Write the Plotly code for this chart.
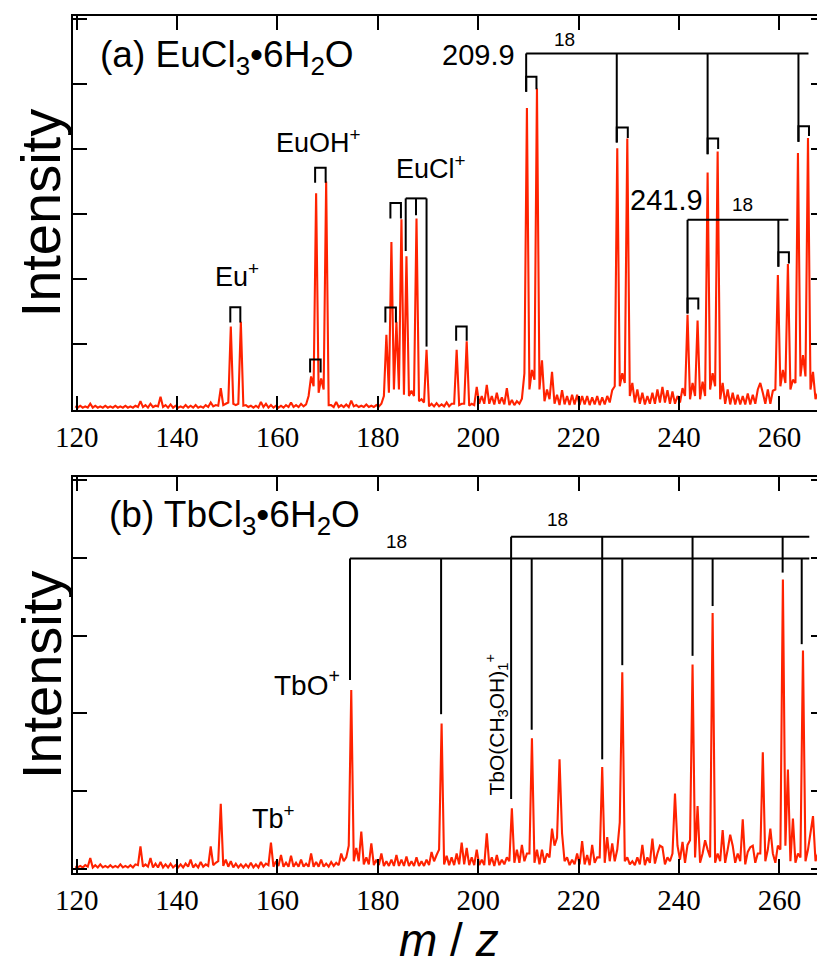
import plotly.graph_objects as go

# ---------------- data ----------------
# Spectra are sampled on a half-unit grid starting at m/z 119.7
# (hump points at m+0.7, valley points at m+0.2)
mz_start = 119.7
mz_step = 0.5

# Panel (a) EuCl3.6H2O : hump values for m = 119..269
hump_a = [
    0.04, 0.05, 0.04, 0.08, 0.05, 0.04, 0.05, 0.04, 0.05, 0.04,   # 119-128
    0.05, 0.04, 0.05, 0.12, 0.06, 0.08, 0.05, 0.19, 0.06, 0.07,   # 129-138
    0.05, 0.04, 0.06, 0.05, 0.06, 0.04, 0.06, 0.10, 0.06, 0.32,   # 139-148
    0.08, 1.27, 0.06, 1.34, 0.06, 0.05, 0.05, 0.11, 0.08, 0.06,   # 149-158
    0.05, 0.05, 0.06, 0.10, 0.06, 0.08, 0.07, 0.50, 3.32, 0.47,   # 159-168
    3.50, 0.06, 0.11, 0.06, 0.07, 0.13, 0.06, 0.05, 0.07, 0.05,   # 169-178
    0.06, 0.08, 1.14, 2.57, 1.34, 2.92, 2.35, 0.28, 2.93, 0.15,   # 179-188
    0.91, 0.08, 0.09, 0.07, 0.10, 0.08, 0.91, 0.08, 1.04, 0.08,   # 189-198
    0.34, 0.20, 0.37, 0.20, 0.25, 0.18, 0.32, 0.14, 0.12, 0.16,   # 199-208
    4.63, 0.60, 4.93, 0.75, 0.30, 0.57, 0.22, 0.29, 0.20, 0.22,   # 209-218
    0.22, 0.20, 0.20, 0.18, 0.20, 0.18, 0.20, 0.29, 4.01, 0.55,   # 219-228
    4.16, 0.40, 0.30, 0.25, 0.20, 0.25, 0.30, 0.34, 0.29, 0.27,   # 229-238
    0.20, 0.32, 1.45, 0.40, 1.36, 0.42, 3.64, 0.55, 3.96, 0.40,   # 239-248
    0.30, 0.25, 0.22, 0.20, 0.24, 0.22, 0.30, 0.25, 0.30, 0.28,   # 249-258
    2.06, 0.60, 2.23, 0.45, 3.94, 0.83, 4.17, 0.57, 0.25, 0.88,   # 259-268
    1.10,                                                         # 269
]
# valley values for m = 120..269 (at m+0.2)
valley_a = [
    0.02, 0.02, 0.02, 0.02, 0.02, 0.02, 0.02, 0.02, 0.02, 0.02,   # 120-129
    0.02, 0.02, 0.03, 0.03, 0.02, 0.03, 0.04, 0.03, 0.02, 0.02,   # 130-139
    0.02, 0.02, 0.02, 0.02, 0.02, 0.02, 0.03, 0.04, 0.05, 0.06,   # 140-149
    0.10, 0.08, 0.08, 0.05, 0.03, 0.02, 0.02, 0.03, 0.02, 0.02,   # 150-159
    0.02, 0.02, 0.03, 0.03, 0.03, 0.04, 0.20, 0.35, 0.25, 0.30,   # 160-169
    0.06, 0.03, 0.03, 0.03, 0.03, 0.04, 0.03, 0.03, 0.03, 0.03,   # 170-179
    0.04, 0.20, 0.25, 0.30, 0.30, 0.22, 0.20, 0.20, 0.12, 0.10,   # 180-189
    0.04, 0.04, 0.04, 0.04, 0.04, 0.08, 0.06, 0.08, 0.05, 0.06,   # 190-199
    0.08, 0.08, 0.08, 0.07, 0.08, 0.07, 0.06, 0.06, 0.08, 0.55,   # 200-209
    0.30, 0.45, 0.30, 0.12, 0.15, 0.08, 0.06, 0.07, 0.06, 0.07,   # 210-219
    0.06, 0.07, 0.06, 0.07, 0.06, 0.07, 0.10, 0.35, 0.35, 0.40,   # 220-229
    0.20, 0.10, 0.08, 0.07, 0.08, 0.08, 0.10, 0.10, 0.08, 0.08,   # 230-239
    0.10, 0.20, 0.15, 0.20, 0.15, 0.20, 0.30, 0.35, 0.15, 0.08,   # 240-249
    0.07, 0.07, 0.07, 0.07, 0.07, 0.08, 0.40, 0.08, 0.08, 0.30,   # 250-259
    0.35, 0.40, 0.30, 0.40, 0.50, 0.50, 0.30, 0.15, 0.20, 0.95,   # 260-269
]

# Panel (b) TbCl3.6H2O : hump values for m = 119..269
hump_b = [
    0.03, 0.04, 0.05, 0.14, 0.05, 0.06, 0.04, 0.05, 0.04, 0.06,   # 119-128
    0.04, 0.05, 0.06, 0.29, 0.06, 0.14, 0.07, 0.09, 0.06, 0.07,   # 129-138
    0.05, 0.06, 0.07, 0.12, 0.06, 0.09, 0.06, 0.29, 0.08, 0.84,   # 139-148
    0.12, 0.10, 0.07, 0.06, 0.06, 0.08, 0.06, 0.09, 0.07, 0.34,   # 149-158
    0.10, 0.18, 0.08, 0.17, 0.08, 0.12, 0.07, 0.20, 0.09, 0.12,   # 159-168
    0.07, 0.09, 0.08, 0.20, 0.15, 2.30, 0.27, 0.48, 0.15, 0.33,   # 169-178
    0.12, 0.20, 0.10, 0.12, 0.18, 0.12, 0.16, 0.10, 0.15, 0.10,   # 179-188
    0.12, 0.22, 0.18, 1.87, 0.17, 0.15, 0.20, 0.34, 0.27, 0.15,   # 189-198
    0.25, 0.12, 0.46, 0.15, 0.18, 0.12, 0.15, 0.78, 0.25, 0.31,   # 199-208
    0.20, 1.68, 0.25, 0.25, 0.20, 0.52, 0.40, 0.46, 0.15, 0.12,   # 209-218
    0.20, 0.36, 0.18, 0.31, 0.15, 1.31, 0.41, 0.33, 0.25, 2.53,   # 219-228
    0.15, 0.10, 0.15, 0.31, 0.15, 0.39, 0.20, 0.28, 0.15, 0.20,   # 229-238
    0.30, 0.35, 0.31, 2.63, 0.81, 0.20, 0.25, 3.29, 0.20, 0.50,   # 239-248
    0.25, 0.30, 0.20, 0.64, 0.22, 0.30, 0.20, 1.50, 0.25, 0.20,   # 249-258
    0.30, 3.72, 1.28, 0.65, 0.20, 2.81, 0.25, 0.68, 0.20, 0.30,   # 259-268
    0.33,                                                         # 269
]
valley_b = [
    0.02, 0.02, 0.03, 0.02, 0.02, 0.02, 0.02, 0.02, 0.02, 0.02,   # 120-129
    0.02, 0.02, 0.05, 0.03, 0.03, 0.02, 0.02, 0.02, 0.02, 0.02,   # 130-139
    0.02, 0.02, 0.03, 0.02, 0.02, 0.03, 0.04, 0.05, 0.10, 0.04,   # 140-149
    0.03, 0.02, 0.02, 0.02, 0.02, 0.02, 0.02, 0.03, 0.05, 0.03,   # 150-159
    0.04, 0.03, 0.03, 0.03, 0.03, 0.03, 0.03, 0.03, 0.03, 0.03,   # 160-169
    0.03, 0.04, 0.05, 0.10, 0.30, 0.10, 0.10, 0.06, 0.06, 0.05,   # 170-179
    0.05, 0.04, 0.04, 0.04, 0.04, 0.04, 0.04, 0.04, 0.04, 0.04,   # 180-189
    0.05, 0.10, 0.25, 0.06, 0.05, 0.05, 0.06, 0.06, 0.05, 0.05,   # 190-199
    0.05, 0.05, 0.05, 0.04, 0.05, 0.06, 0.10, 0.08, 0.08, 0.10,   # 200-209
    0.20, 0.08, 0.06, 0.08, 0.15, 0.30, 1.41, 0.10, 0.05, 0.06,   # 210-219
    0.06, 0.06, 0.05, 0.08, 0.15, 0.08, 0.10, 0.10, 0.60, 0.10,   # 220-229
    0.06, 0.05, 0.06, 0.05, 0.08, 0.07, 0.30, 0.06, 0.10, 0.97,   # 230-239
    0.12, 0.08, 0.37, 0.15, 0.08, 0.37, 0.15, 0.08, 0.10, 0.08,   # 240-249
    0.44, 0.08, 0.10, 0.06, 0.28, 0.08, 0.20, 0.10, 0.52, 0.08,   # 250-259
    0.25, 0.30, 0.10, 0.08, 0.15, 0.10, 0.47, 0.10, 0.06, 0.10,   # 260-269
]

# Panel (a) "18" progression series (top y, vertical-line m/z, vertical bottoms, end m/z)
a_s1_top, a_s1_end = 5.47, 265.8
a_s1_x = [209.55, 227.6, 245.7, 263.8]
a_s1_bottom = [4.88, 4.10, 3.92, 4.11]
a_s2_top, a_s2_end = 2.91, 261.8
a_s2_x = [241.7, 259.8]
a_s2_bottom = [1.47, 2.19]
# isotope-pair brackets in panel (a)
a_pair_left = [150.6, 166.5, 167.5, 181.5, 182.5, 195.6, 209.55, 227.6, 245.7, 263.8, 241.7, 259.8]
a_pair_right = [152.6, 168.6, 169.6, 183.6, 184.6, 197.7, 211.6, 229.8, 247.8, 265.9, 243.85, 261.9]
a_pair_top = [1.565, 0.76, 3.71, 1.56, 3.17, 1.27, 5.11, 4.33, 4.16, 4.35, 1.70, 2.41]
a_pair_lbot = [1.33, 0.56, 3.48, 1.33, 2.93, 1.05, 4.88, 4.10, 3.92, 4.11, 1.47, 2.19]
a_pair_rbot = [1.33, 0.56, 3.48, 1.33, 2.93, 1.05, 4.92, 4.17, 4.00, 4.20, 1.53, 2.24]
# EuCl+ triple bracket
a_tri_top = 3.24
a_tri_x = [185.55, 187.6, 189.7]
a_tri_bottom = [2.43, 2.98, 0.96]

# Panel (b) "18" progression series
b_s1_top, b_s1_end = 3.99, 265.96
b_s1_x = [174.45, 192.6, 210.65, 228.7, 246.7, 264.45]
b_s1_bottom = [2.43, 1.99, 1.79, 2.62, 3.38, 2.89]
b_s2_top, b_s2_end = 4.27, 265.96
b_s2_x = [206.55, 224.7, 242.7, 260.65]
b_s2_bottom = [0.90, 1.41, 2.74, 3.81]

x_ticks = [120, 140, 160, 180, 200, 220, 240, 260]

# ---------------- build ----------------
def spectrum(hump, valley):
    xs, ys = [], []
    for i in range(len(hump) + len(valley)):
        xs.append(mz_start + mz_step * i)
        ys.append(hump[i // 2] if i % 2 == 0 else valley[(i - 1) // 2])
    return xs, ys

def series_lines(top, xs, bottoms, end):
    lx, ly = [xs[0], end, None], [top, top, None]
    for x, b in zip(xs, bottoms):
        lx += [x, x, None]
        ly += [top, b, None]
    return lx, ly

def pair_lines(left, right, top, lbot, rbot):
    lx, ly = [], []
    for l, r, t, lb, rb in zip(left, right, top, lbot, rbot):
        lx += [l, l, r, r, None]
        ly += [lb, t, t, rb, None]
    return lx, ly

RED = "#ff2200"
fig = go.Figure()

xa, ya = spectrum(hump_a, valley_a)
xb, yb = spectrum(hump_b, valley_b)
fig.add_trace(go.Scatter(x=xa, y=ya, mode="lines", line=dict(color=RED, width=2.1),
                         xaxis="x", yaxis="y", showlegend=False, hoverinfo="skip"))
fig.add_trace(go.Scatter(x=xb, y=yb, mode="lines", line=dict(color=RED, width=2.1),
                         xaxis="x2", yaxis="y2", showlegend=False, hoverinfo="skip"))

blk = dict(color="black", width=2)
la = [series_lines(a_s1_top, a_s1_x, a_s1_bottom, a_s1_end),
      series_lines(a_s2_top, a_s2_x, a_s2_bottom, a_s2_end),
      series_lines(a_tri_top, a_tri_x, a_tri_bottom, a_tri_x[-1]),
      pair_lines(a_pair_left, a_pair_right, a_pair_top, a_pair_lbot, a_pair_rbot)]
for lx, ly in la:
    fig.add_trace(go.Scatter(x=lx, y=ly, mode="lines", line=blk, xaxis="x", yaxis="y",
                             showlegend=False, hoverinfo="skip"))
lb = [series_lines(b_s1_top, b_s1_x, b_s1_bottom, b_s1_end),
      series_lines(b_s2_top, b_s2_x, b_s2_bottom, b_s2_end)]
for lx, ly in lb:
    fig.add_trace(go.Scatter(x=lx, y=ly, mode="lines", line=blk, xaxis="x2", yaxis="y2",
                             showlegend=False, hoverinfo="skip"))

SANS = "Liberation Sans, Arial, sans-serif"
SERIF = "Liberation Serif, Times New Roman, serif"

xcommon = dict(range=[119.26, 269.09], tickvals=x_ticks, ticks="inside", ticklen=14, tickwidth=2,
               tickcolor="black", showline=True, linecolor="black", linewidth=2, mirror="allticks",
               showgrid=False, zeroline=False, automargin=False,
               tickfont=dict(family=SERIF, size=29, color="black"))
ycommon = dict(ticks="inside", ticklen=14, tickwidth=2, tickcolor="black", showline=True,
               linecolor="black", linewidth=2, mirror="allticks", showgrid=False, zeroline=False,
               showticklabels=False, dtick=1, tick0=0, automargin=False)

# the page body keeps an 8px browser margin, so the figure is 8px smaller
# and its margins are reduced by 8px on the left/top to land where the reference is
fig.update_layout(
    width=817, height=957,
    margin=dict(l=65, r=0, t=8, b=92),
    paper_bgcolor="white", plot_bgcolor="white",
    xaxis=dict(**xcommon, anchor="y"),
    xaxis2=dict(**xcommon, anchor="y2", matches="x"),
    yaxis=dict(**ycommon, domain=[0.5403, 1.0], range=[-0.015, 6.046], anchor="x"),
    yaxis2=dict(**ycommon, domain=[0.0, 0.4624], range=[-0.051, 5.042], anchor="x2"),
    showlegend=False,
)

def ann(text, x, y, size, xref="x", yref="y", xanchor="center", angle=0):
    fig.add_annotation(text=text, x=x, y=y, xref=xref, yref=yref, xanchor=xanchor,
                       yanchor="middle", showarrow=False, textangle=angle,
                       font=dict(family=SANS, size=size, color="black"))

# panel (a) labels
ann("(a) EuCl<sub>3</sub>•6H<sub>2</sub>O", 124.2, 5.42, 37, xanchor="left")
ann("Eu<sup>+</sup>", 151.94, 2.06, 27)
ann("EuOH<sup>+</sup>", 168.18, 4.12, 27)
ann("EuCl<sup>+</sup>", 190.59, 3.72, 27)
ann("209.9", 207.67, 5.45, 29, xanchor="right")
ann("18", 217.13, 5.68, 19)
ann("241.9", 237.6, 3.22, 29)
ann("18", 252.7, 3.14, 19)

# panel (b) labels
ann("(b) TbCl<sub>3</sub>•6H<sub>2</sub>O", 126.1, 4.52, 37, xref="x2", yref="y2", xanchor="left")
ann("TbO<sup>+</sup>", 172.86, 2.39, 28, xref="x2", yref="y2", xanchor="right")
ann("Tb<sup>+</sup>", 159.11, 0.67, 27, xref="x2", yref="y2")
ann("18", 183.76, 4.21, 19, xref="x2", yref="y2")
ann("18", 215.84, 4.49, 19, xref="x2", yref="y2")
ann("TbO(CH<sub>3</sub>OH)<sub>1</sub><sup>+</sup>", 203.6, 1.86, 21, xref="x2", yref="y2", angle=-90)

# axis titles
ann("Intensity", -0.042, 0.5, 56, xref="paper", yref="y domain", angle=-90)
ann("Intensity", -0.042, 0.5, 56, xref="paper", yref="y2 domain", angle=-90)
ann("<i>m</i> / <i>z</i>", 0.5, -0.078, 46, xref="paper", yref="paper")

fig.write_html("out.html")
